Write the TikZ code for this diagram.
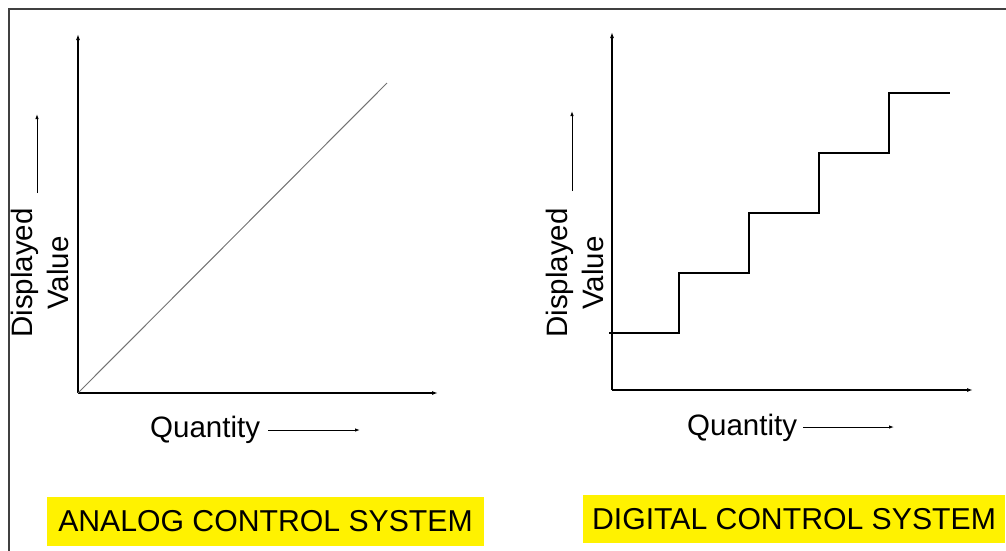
\documentclass[tikz,border=0pt]{standalone}
\usepackage{fontspec}
\setmainfont{Liberation Sans}
\usetikzlibrary{arrows.meta}

\begin{document}
\begin{tikzpicture}[x=1pt,y=-1pt]

\tikzset{axis/.style = {-{Latex[length=6pt,width=4pt]}, line width=1.3pt}}
\tikzset{hint/.style = {-{Latex[length=5pt,width=3.5pt]}, line width=0.9pt}}
\tikzset{lbl/.style = {font=\fontsize{29.5}{36}\selectfont, inner sep=0pt}}
\tikzset{title/.style = {fill=yellow, font=\fontsize{30.2}{34}\selectfont, inner sep=0pt}}
\useasboundingbox (0,0) rectangle (1006,550);
%frame
\draw[line width=1.5pt, black!75] (1012,9) -- (9,9) -- (9,556);
%analog axes
\coordinate (o1) at (78,393);
\coordinate (y1) at (78,34);
\coordinate (x1) at (438,393);
\coordinate (e1) at (387,83);
\draw[axis] (o1) -- (y1);
\draw[axis] (o1) -- (x1);
\draw[line width=1pt, black!55] (o1) -- (e1);
%analog labels
\node[lbl, rotate=90, align=center] (v1) at (40,273) {Displayed\\Value};
\coordinate (u1a) at (37,193);
\coordinate (u1b) at (37,114);
\draw[hint] (u1a) -- (u1b);
\node[lbl, anchor=base west] (q1) at (150,437) {Quantity};
\coordinate (r1a) at (268,430);
\coordinate (r1b) at (360,430);
\draw[hint] (r1a) -- (r1b);
\node[title, minimum width=437pt, minimum height=49pt] (t1) at (265.5,521.5) {ANALOG CONTROL SYSTEM};
%digital axes
\coordinate (o2) at (612,390);
\coordinate (y2) at (612,32);
\coordinate (x2) at (973,390);
\draw[axis] (o2) -- (y2);
\draw[axis] (o2) -- (x2);
\draw[line width=1.3pt] (609,333) -- (679,333) -- (679,273) -- (749,273) -- (749,213)
  -- (819,213) -- (819,153) -- (889,153) -- (889,93) -- (950,93);
%digital labels
\node[lbl, rotate=90, align=center] (v2) at (574.5,273) {Displayed\\Value};
\coordinate (u2a) at (572,191);
\coordinate (u2b) at (572,111);
\draw[hint] (u2a) -- (u2b);
\node[lbl, anchor=base west] (q2) at (687,435) {Quantity};
\coordinate (r2a) at (803,427);
\coordinate (r2b) at (894,427);
\draw[hint] (r2a) -- (r2b);
\node[title, minimum width=422pt, minimum height=48pt] (t2) at (794,519) {DIGITAL CONTROL SYSTEM};

\end{tikzpicture}
\end{document}
